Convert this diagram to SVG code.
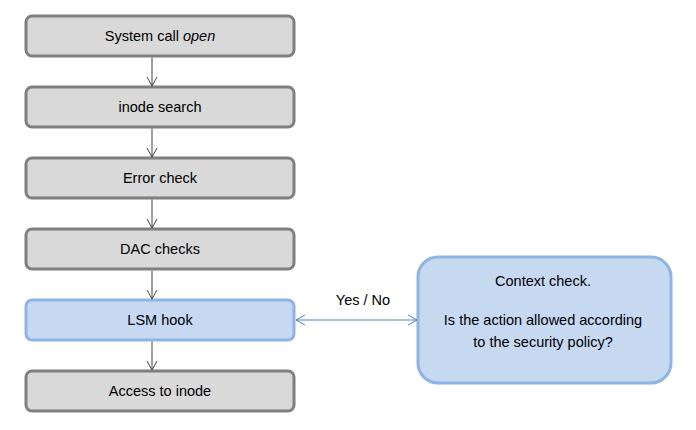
<svg xmlns="http://www.w3.org/2000/svg" width="696" height="430" viewBox="0 0 696 430">
<style>
.box{fill:#d9d9d9;stroke:#7f7f7f;stroke-width:3}
.blue{fill:#c6d9f1;stroke:#8eb4e3;stroke-width:3}
text{font-family:"Liberation Sans",Arial,sans-serif;font-size:14.5px;fill:#000;text-anchor:middle}
.conn{stroke:#404040;stroke-width:1;fill:none}
.bi{stroke:#4f81bd;stroke-width:1;fill:none}
</style>
<defs>
<marker id="ah" markerWidth="12" markerHeight="12" refX="10" refY="6" orient="auto" markerUnits="userSpaceOnUse">
<path d="M1,1 L10,6 L1,11" fill="none" stroke="#404040" stroke-width="1"/>
</marker>
<marker id="bh" markerWidth="12" markerHeight="12" refX="10" refY="6" orient="auto-start-reverse" markerUnits="userSpaceOnUse">
<path d="M1,1 L10,6 L1,11" fill="none" stroke="#4f81bd" stroke-width="1"/>
</marker>
</defs>
<g id="n1"><rect class="box" x="26" y="16" width="268" height="40" rx="6"/><text x="160" y="41">System call <tspan font-style="italic">open</tspan></text></g>
<g id="n2"><rect class="box" x="26" y="87" width="268" height="40" rx="6"/><text x="160" y="112">inode search</text></g>
<g id="n3"><rect class="box" x="26" y="158" width="268" height="40" rx="6"/><text x="160" y="183">Error check</text></g>
<g id="n4"><rect class="box" x="26" y="229" width="268" height="40" rx="6"/><text x="160" y="254">DAC checks</text></g>
<g id="n5"><rect class="blue" x="26" y="300" width="268" height="40" rx="6"/><text x="160" y="325">LSM hook</text></g>
<g id="n6"><rect class="box" x="26" y="371" width="268" height="40" rx="6"/><text x="160" y="396">Access to inode</text></g>
<g id="n7"><rect class="blue" x="418" y="257" width="253" height="126" rx="20"/>
<text x="543" y="286">Context check.</text>
<text x="543" y="325">Is the action allowed according</text>
<text x="543" y="347">to the security policy?</text></g>
<g id="connectors">
<path class="conn" d="M152,57.5 V86" marker-end="url(#ah)"/>
<path class="conn" d="M152,128.5 V157" marker-end="url(#ah)"/>
<path class="conn" d="M152,199.5 V228" marker-end="url(#ah)"/>
<path class="conn" d="M152,270.5 V299" marker-end="url(#ah)"/>
<path class="conn" d="M152,341.5 V370" marker-end="url(#ah)"/>
<path class="bi" d="M296,320 H417" marker-start="url(#bh)" marker-end="url(#bh)"/>
<text x="363" y="305">Yes / No</text>
</g>
</svg>
